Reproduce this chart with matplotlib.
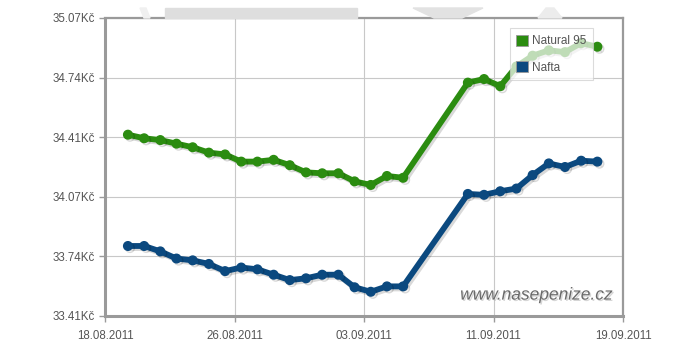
import matplotlib
matplotlib.use("Agg")
import matplotlib.pyplot as plt
import matplotlib.patheffects as pe
from matplotlib.patches import Polygon, Patch
import datetime as dt

# ---- data ----
dates = ["19.08.2011", "20.08.2011", "21.08.2011", "22.08.2011", "23.08.2011",
         "24.08.2011", "25.08.2011", "26.08.2011", "27.08.2011", "28.08.2011",
         "29.08.2011", "30.08.2011", "31.08.2011", "01.09.2011", "02.09.2011",
         "03.09.2011", "04.09.2011", "05.09.2011",
         "09.09.2011", "10.09.2011", "11.09.2011", "12.09.2011", "13.09.2011",
         "14.09.2011", "15.09.2011", "16.09.2011", "17.09.2011"]
natural95 = [34.42, 34.40, 34.39, 34.37, 34.35, 34.32, 34.31, 34.27, 34.27, 34.28,
             34.25, 34.21, 34.205, 34.205, 34.16, 34.14, 34.19, 34.18,
             34.71, 34.73, 34.69, 34.80, 34.86, 34.89, 34.88, 34.93, 34.91]
nafta = [33.80, 33.80, 33.77, 33.73, 33.72, 33.70, 33.66, 33.68, 33.67, 33.64,
         33.61, 33.62, 33.64, 33.64, 33.57, 33.545, 33.575, 33.575,
         34.09, 34.085, 34.105, 34.12, 34.195, 34.26, 34.24, 34.275, 34.27]
series_names = ["Natural 95", "Nafta"]
y_ticks = [33.41, 33.74, 34.07, 34.41, 34.74, 35.07]
x_ticks = ["18.08.2011", "26.08.2011", "03.09.2011", "11.09.2011", "19.09.2011"]

green = "#2b8c10"
blue = "#0b497f"
txt = "#555555"

def parse(s, hour=0):
    return dt.datetime.strptime(s, "%d.%m.%Y") + dt.timedelta(hours=hour)

xs = [parse(d, 10) for d in dates]

fig = plt.figure(figsize=(6.9, 3.5), dpi=100)
plt.rcParams['font.family'] = ['Liberation Sans', 'DejaVu Sans']

# faint watermark shapes above the plot
def fpoly(pts, color):
    fig.patches.append(Polygon([(x / 690, 1 - y / 350) for x, y in pts], closed=True,
                               transform=fig.transFigure, color=color, zorder=0))

fpoly([(165, 8), (357, 8), (357, 18), (165, 18)], "#dedede")
fpoly([(140, 8), (146, 8), (150, 18), (144, 18)], "#f0f0f0")
fpoly([(413, 8), (483, 8), (462, 18), (434, 18)], "#e2e2e2")
fpoly([(546, 8), (554, 8), (562, 18), (538, 18)], "#ececec")

ax = fig.add_axes([105/690, 34/350, 518/690, 298/350])
ax.set_facecolor("white")

shadow = [pe.SimpleLineShadow(offset=(1.5, -1.5), shadow_color="black", alpha=0.15), pe.Normal()]
ax.plot(xs, natural95, color=green, lw=4.2, marker="o", ms=6.2, mec=green, mfc=green,
        path_effects=shadow, zorder=3, solid_joinstyle="round")
ax.plot(xs, nafta, color=blue, lw=4.2, marker="o", ms=6.2, mec=blue, mfc=blue,
        path_effects=shadow, zorder=3, solid_joinstyle="round")

ax.set_ylim(y_ticks[0], y_ticks[-1])
ax.set_yticks([y_ticks[0] + i * (y_ticks[-1] - y_ticks[0]) / 5 for i in range(6)])
ax.set_yticklabels([f"{v:.2f}Kč" for v in y_ticks])
xt = [parse(s) for s in x_ticks]
ax.set_xlim(xt[0], xt[-1])
ax.set_xticks(xt)
ax.set_xticklabels(x_ticks)

ax.grid(True, color="#c8c8c8", lw=0.8)
ax.set_axisbelow(True)
for s in ax.spines.values():
    s.set_color("#9a9a9a")
    s.set_linewidth(1.6)
ax.spines["left"].set_linewidth(2.2)
ax.spines["bottom"].set_linewidth(2.2)
ax.tick_params(axis="both", colors="#9a9a9a", labelcolor=txt, labelsize=8.3, length=4, width=1)
ax.tick_params(axis="x", pad=6)
ax.tick_params(axis="y", pad=3)

handles = [Patch(facecolor=green, edgecolor="#999999", lw=0.6),
           Patch(facecolor=blue, edgecolor="#999999", lw=0.6)]
leg = ax.legend(handles, series_names, loc="upper right", bbox_to_anchor=(0.942, 0.966), frameon=True,
                fancybox=False, handlelength=1.0, handleheight=1.1, handletextpad=0.35, labelspacing=1.15,
                fontsize=8.5, borderpad=0.55, borderaxespad=0.0, labelcolor=txt)
leg.get_frame().set_facecolor("white")
leg.get_frame().set_alpha(0.7)
leg.get_frame().set_edgecolor("#cccccc")
leg.get_frame().set_linewidth(0.8)
leg.set_zorder(5)

ax.text(0.98, 0.045, "www.nasepenize.cz", transform=ax.transAxes, ha="right", va="bottom",
        fontsize=12.5, style="italic", color="#6a6a6a", zorder=4,
        path_effects=[pe.withSimplePatchShadow(offset=(1, -1), shadow_rgbFace="#bbbbbb", alpha=0.6)])

fig.savefig("out.png", dpi=100, facecolor="white")
